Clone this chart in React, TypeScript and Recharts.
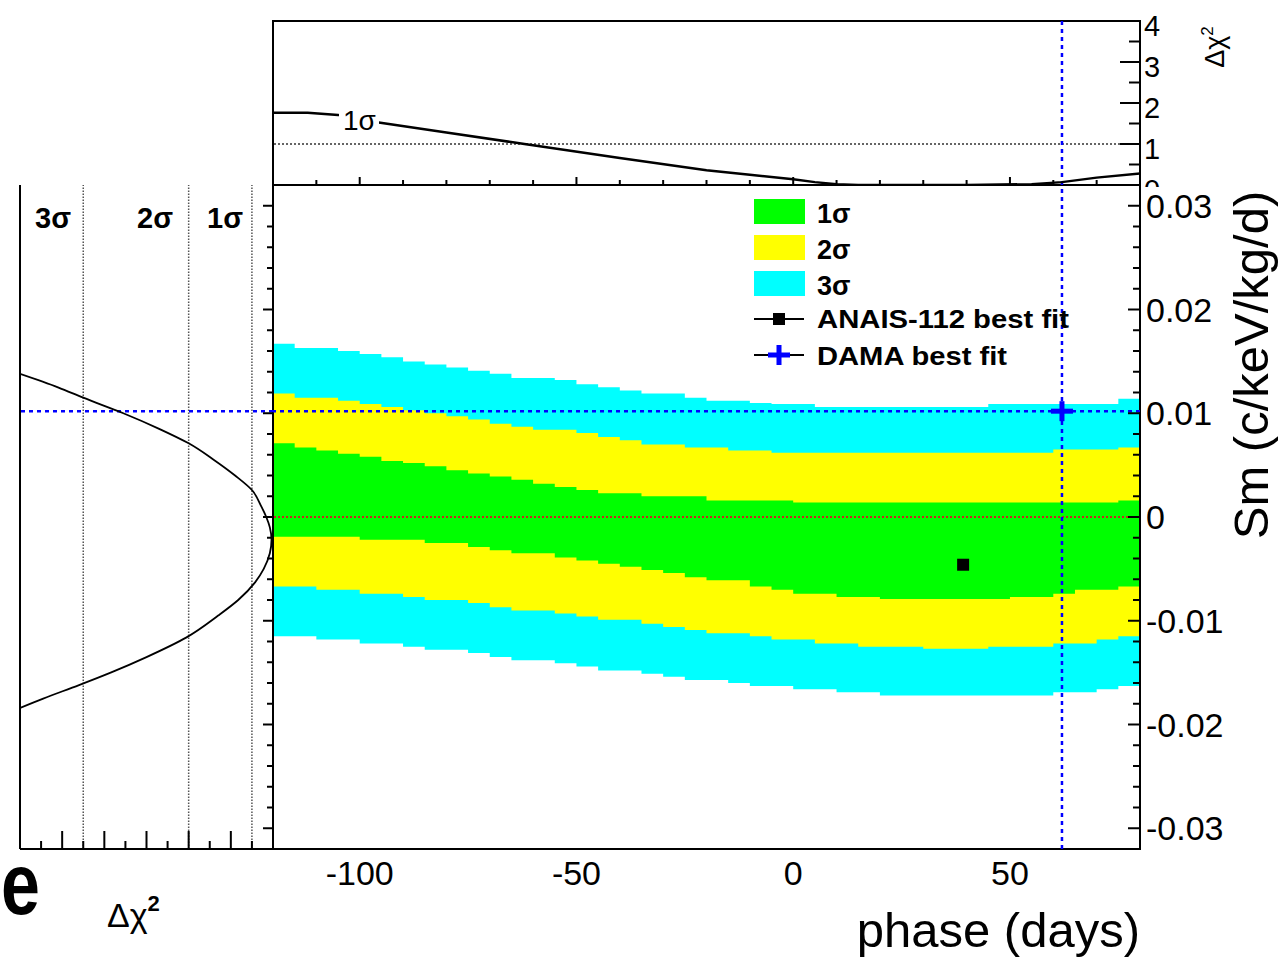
import React from 'react';
import { ComposedChart, Area, Line, Scatter, XAxis, YAxis, ReferenceLine, ReferenceArea } from 'recharts';

const FONT = '"Liberation Sans", Arial, Helvetica, sans-serif';

// contour bands, sampled every 5 days (values in c/keV/kg/d)
const phases = [-120, -115, -110, -105, -100, -95, -90, -85, -80, -75, -70, -65, -60, -55, -50, -45, -40, -35, -30, -25, -20, -15, -10, -5, 0, 5, 10, 15, 20, 25, 30, 35, 40, 45, 50, 55, 60, 65, 70, 75, 80];
const cyanHigh = [0.0167, 0.0163, 0.0163, 0.016, 0.0157, 0.0154, 0.015, 0.0147, 0.0144, 0.0141, 0.0138, 0.0134, 0.0134, 0.0132, 0.0128, 0.0125, 0.0122, 0.0119, 0.0119, 0.0115, 0.0112, 0.0112, 0.011, 0.0109, 0.0109, 0.0106, 0.0106, 0.0106, 0.0106, 0.0106, 0.0106, 0.0106, 0.0106, 0.0109, 0.0109, 0.0109, 0.0109, 0.0109, 0.0109, 0.0114, 0.0114];
const yellowHigh = [0.0119, 0.0115, 0.0115, 0.0112, 0.0109, 0.0106, 0.0103, 0.01, 0.0097, 0.0094, 0.009, 0.0087, 0.0084, 0.0084, 0.0081, 0.0077, 0.0074, 0.007, 0.007, 0.0067, 0.0067, 0.0064, 0.0064, 0.0062, 0.0062, 0.0062, 0.0062, 0.0062, 0.0062, 0.0062, 0.0062, 0.0062, 0.0062, 0.0062, 0.0062, 0.0062, 0.0065, 0.0065, 0.0065, 0.0067, 0.0067];
const greenHigh = [0.0071, 0.0067, 0.0064, 0.0061, 0.0058, 0.0054, 0.0052, 0.0049, 0.0045, 0.0042, 0.0039, 0.0036, 0.0032, 0.0029, 0.0026, 0.0023, 0.0023, 0.002, 0.002, 0.002, 0.0016, 0.0016, 0.0016, 0.0016, 0.0014, 0.0014, 0.0014, 0.0014, 0.0014, 0.0014, 0.0014, 0.0014, 0.0014, 0.0014, 0.0014, 0.0014, 0.0014, 0.0014, 0.0014, 0.0016, 0.0016];
const greenLow = [-0.0019, -0.0019, -0.0019, -0.0019, -0.0022, -0.0022, -0.0022, -0.0025, -0.0025, -0.0029, -0.0032, -0.0035, -0.0035, -0.0039, -0.0042, -0.0045, -0.0048, -0.0051, -0.0054, -0.0058, -0.0061, -0.0061, -0.0067, -0.007, -0.0074, -0.0074, -0.0077, -0.0077, -0.0079, -0.0079, -0.0079, -0.0079, -0.0079, -0.0079, -0.0077, -0.0077, -0.0074, -0.007, -0.007, -0.0067, -0.0067];
const yellowLow = [-0.0067, -0.0067, -0.007, -0.007, -0.0074, -0.0074, -0.0077, -0.008, -0.008, -0.0083, -0.0087, -0.009, -0.009, -0.0093, -0.0096, -0.0099, -0.0099, -0.0103, -0.0106, -0.0109, -0.0112, -0.0112, -0.0115, -0.0118, -0.0118, -0.0122, -0.0122, -0.0125, -0.0125, -0.0125, -0.0127, -0.0127, -0.0127, -0.0125, -0.0125, -0.0125, -0.0122, -0.0122, -0.0118, -0.0115, -0.0115];
const cyanLow = [-0.0115, -0.0115, -0.0118, -0.0118, -0.0122, -0.0122, -0.0125, -0.0128, -0.0128, -0.0131, -0.0135, -0.0138, -0.0138, -0.0141, -0.0144, -0.0148, -0.0148, -0.0151, -0.0154, -0.0157, -0.0157, -0.016, -0.0163, -0.0163, -0.0166, -0.0166, -0.0169, -0.0169, -0.0172, -0.0172, -0.0172, -0.0172, -0.0172, -0.0172, -0.0172, -0.0172, -0.0169, -0.0169, -0.0166, -0.0163, -0.0163];

const anaisBest = [{ phase: 39.2, sm: -0.0046 }];
const damaBest = [{ phase: 62, sm: 0.0102 }];

// top pad: delta chi2 profile vs phase
const profilePhase = [-120, -112, -105, -96, -80, -62, -40, -20, -10, 0, 5, 10, 15, 40, 55, 62, 70, 80];
const profileChi = [1.76, 1.76, 1.71, 1.53, 1.28, 1.0, 0.66, 0.36, 0.25, 0.14, 0.07, 0.02, 0.0, 0.0, 0.02, 0.07, 0.18, 0.28];

// left pad: delta chi2 vs Sm at DAMA phase
const leftSm = [0.0138, 0.0125, 0.0115, 0.01, 0.0085, 0.0071, 0.0055, 0.004, 0.0026, 0.001, 0.0, -0.001, -0.0022, -0.0035, -0.005, -0.0063, -0.008, -0.0095, -0.0116, -0.0135, -0.015, -0.0162, -0.0175, -0.0184];
const leftChi = [12.0, 10.2, 9.0, 7.1, 5.4, 4.0, 2.8, 1.8, 1.0, 0.55, 0.32, 0.15, 0.07, 0.15, 0.44, 0.85, 1.65, 2.6, 4.1, 6.0, 7.7, 9.2, 10.9, 12.0];

const phaseTicks = [-100, -50, 0, 50];
const topPhaseTicks = [-110, -100, -90, -80, -70, -60, -50, -40, -30, -20, -10, 0, 10, 20, 30, 40, 50, 60, 70];
const smTicks = Array.from({ length: 31 }, (_, i) => +((i - 15) * 0.002).toFixed(3));
const chiTopTicks = [0, 0.5, 1, 1.5, 2, 2.5, 3, 3.5, 4];
const chiLeftTicks = [1, 2, 3, 4, 5, 6, 7, 8, 9, 10, 11];
const sigmaLevels = [1, 4, 9];
const sigmaNames = ['1σ', '2σ', '3σ'];

const bandData = phases.map((p, i) => ({
  phase: p,
  cyan: [cyanLow[i], cyanHigh[i]],
  yellow: [yellowLow[i], yellowHigh[i]],
  green: [greenLow[i], greenHigh[i]],
}));
const profileData = profilePhase.map((p, i) => ({ phase: p, chi: profileChi[i] }));
const leftData = leftSm.map((s, i) => ({ sm: s, chi: leftChi[i] }));

const SM_DOMAIN: [number, number] = [-0.032, 0.032];
const near = (v: number, step: number) => Math.abs(v / step - Math.round(v / step)) < 1e-6;
const fmtSm = (v: number) => (Math.abs(v) < 1e-9 ? '0' : v.toFixed(2));

const txt = { fontFamily: FONT, fill: '#000' };

function PhaseTick({ x, y, payload }: any) {
  return <text x={x} y={y + 36} textAnchor="middle" fontSize={34} {...txt}>{payload.value}</text>;
}

function SmTick({ x, y, payload }: any) {
  const major = near(payload.value, 0.01);
  return (
    <g>
      <line x1={x - (major ? 12 : 7)} x2={x} y1={y} y2={y} stroke="#000" strokeWidth={2} />
      {major && <text x={x + 6} y={y + 12} fontSize={34} {...txt}>{fmtSm(payload.value)}</text>}
    </g>
  );
}

function LeftSmTick({ x, y, payload }: any) {
  const major = near(payload.value, 0.01);
  return <line x1={x - (major ? 10 : 6)} x2={x} y1={y} y2={y} stroke="#000" strokeWidth={2} />;
}

function TopPhaseTick({ x, y, payload }: any) {
  const major = near(payload.value, 50);
  return <line x1={x} x2={x} y1={y} y2={y - (major ? 8 : 5)} stroke="#000" strokeWidth={2} />;
}

function ChiRightTick({ x, y, payload }: any) {
  const major = near(payload.value, 1);
  return (
    <g>
      <line x1={x - (major ? 20 : 11)} x2={x} y1={y} y2={y} stroke="#000" strokeWidth={2} />
      {major && <text x={x + 4} y={y + 15} fontSize={29} {...txt}>{payload.value}</text>}
    </g>
  );
}

function ChiBottomTick({ x, y, payload }: any) {
  const major = near(payload.value, 2);
  return <line x1={x} x2={x} y1={y} y2={y - (major ? 18 : 8)} stroke="#000" strokeWidth={2} />;
}

const Square = ({ cx, cy }: any) => <rect x={cx - 6} y={cy - 6} width={12} height={12} fill="#000" />;
const Cross = ({ cx, cy }: any) => (
  <g fill="#0000ff">
    <rect x={cx - 11} y={cy - 2.5} width={22} height={5} />
    <rect x={cx - 2.5} y={cy - 10} width={5} height={20} />
  </g>
);

const legendItems = [
  { label: '1σ', color: '#00ff00' },
  { label: '2σ', color: '#ffff00' },
  { label: '3σ', color: '#00ffff' },
];

export default function App() {
  return (
    <div style={{ position: 'absolute', left: 0, top: 0, width: 1288, height: 959, background: '#fff', overflow: 'hidden' }}>
      {/* main pad */}
      <div style={{ position: 'absolute', left: 0, top: 0 }}>
        <ComposedChart width={1288} height={959} data={bandData} margin={{ top: 185, right: 0, bottom: 0, left: 273 }}>
          <XAxis dataKey="phase" type="number" domain={[-120, 80]} allowDataOverflow ticks={phaseTicks} interval={0}
            height={110} axisLine={false} tickLine={false} tickSize={0} tickMargin={0} tick={<PhaseTick />} />
          <YAxis type="number" orientation="right" domain={SM_DOMAIN} allowDataOverflow ticks={smTicks} interval={0}
            width={148} axisLine={false} tickLine={false} tickSize={0} tickMargin={0} tick={<SmTick />} />
          <Area type="stepAfter" dataKey="cyan" fill="#00ffff" fillOpacity={1} stroke="none" isAnimationActive={false} />
          <Area type="stepAfter" dataKey="yellow" fill="#ffff00" fillOpacity={1} stroke="none" isAnimationActive={false} />
          <Area type="stepAfter" dataKey="green" fill="#00ff00" fillOpacity={1} stroke="none" isAnimationActive={false} />
          <ReferenceLine y={0} stroke="#c8281e" strokeWidth={2} strokeDasharray="2 2" />
          <ReferenceLine y={damaBest[0].sm} stroke="#0000ff" strokeWidth={2.5} strokeDasharray="4 4" />
          <ReferenceLine x={damaBest[0].phase} stroke="#0000ff" strokeWidth={2.5} strokeDasharray="4 4" />
          <Scatter data={anaisBest} dataKey="sm" shape={Square} isAnimationActive={false} />
          <Scatter data={damaBest} dataKey="sm" shape={Cross} isAnimationActive={false} />
          <ReferenceArea x1={-120} x2={80} y1={SM_DOMAIN[0]} y2={SM_DOMAIN[1]} fill="none" fillOpacity={0} stroke="#000" strokeWidth={2} />
        </ComposedChart>
      </div>

      {/* top pad */}
      <div style={{ position: 'absolute', left: 0, top: 0 }}>
        <ComposedChart width={1288} height={187} data={profileData} margin={{ top: 21, right: 0, bottom: 0, left: 273 }}>
          <XAxis dataKey="phase" type="number" domain={[-120, 80]} allowDataOverflow ticks={topPhaseTicks} interval={0}
            height={2} axisLine={false} tickLine={false} tickSize={0} tickMargin={0} tick={<TopPhaseTick />} />
          <YAxis type="number" orientation="right" domain={[0, 4]} allowDataOverflow ticks={chiTopTicks} interval={0}
            width={148} axisLine={false} tickLine={false} tickSize={0} tickMargin={0} tick={<ChiRightTick />} />
          <ReferenceLine y={1} stroke="#333" strokeWidth={1.5} strokeDasharray="2 2" />
          <ReferenceLine x={damaBest[0].phase} stroke="#0000ff" strokeWidth={2.5} strokeDasharray="4 4" />
          <Line type="linear" dataKey="chi" stroke="#000" strokeWidth={2.5} dot={false} isAnimationActive={false} />
          <ReferenceArea x1={-120} x2={80} y1={0} y2={4} fill="none" fillOpacity={0} stroke="#000" strokeWidth={2} />
        </ComposedChart>
      </div>

      {/* left pad */}
      <div style={{ position: 'absolute', left: 0, top: 0 }}>
        <ComposedChart width={1288} height={959} data={leftData} margin={{ top: 185, right: 1014, bottom: 0, left: 20 }}>
          <XAxis dataKey="chi" type="number" domain={[0, 12]} reversed allowDataOverflow ticks={chiLeftTicks} interval={0}
            height={110} axisLine={{ stroke: '#000', strokeWidth: 2 }} tickLine={false} tickSize={0} tickMargin={0} tick={<ChiBottomTick />} />
          <YAxis type="number" orientation="right" domain={SM_DOMAIN} allowDataOverflow ticks={smTicks} interval={0}
            width={1} axisLine={false} tickLine={false} tickSize={0} tickMargin={0} tick={<LeftSmTick />} />
          {sigmaLevels.map((s) => (
            <ReferenceLine key={s} x={s} stroke="#555" strokeWidth={1.5} strokeDasharray="1.5 1.5" />
          ))}
          <ReferenceLine x={12} stroke="#000" strokeWidth={2} />
          <ReferenceLine y={damaBest[0].sm} stroke="#0000ff" strokeWidth={2.5} strokeDasharray="4 4" />
          <Line type="monotoneY" dataKey="sm" stroke="#000" strokeWidth={1.8} dot={false} isAnimationActive={false} />
        </ComposedChart>
      </div>

      {/* texts and legend */}
      <svg width={1288} height={959} style={{ position: 'absolute', left: 0, top: 0, pointerEvents: 'none' }}>
        {legendItems.map((it, i) => (
          <g key={it.label}>
            <rect x={754} y={199 + i * 36} width={51} height={25} fill={it.color} />
            <text x={817} y={223 + i * 36} fontSize={27} fontWeight="bold" {...txt}>{it.label}</text>
          </g>
        ))}
        <line x1={754} x2={804} y1={319} y2={319} stroke="#000" strokeWidth={2} />
        <Square cx={779} cy={319} />
        <text x={817} y={328} fontSize={26} fontWeight="bold" textLength={252} lengthAdjust="spacingAndGlyphs" {...txt}>ANAIS-112 best fit</text>
        <line x1={754} x2={804} y1={355} y2={355} stroke="#000" strokeWidth={2} />
        <Cross cx={779} cy={355} />
        <text x={817} y={365} fontSize={26} fontWeight="bold" textLength={190} lengthAdjust="spacingAndGlyphs" {...txt}>DAMA best fit</text>

        <rect x={339} y={106} width={40} height={28} fill="#fff" />
        <text x={343} y={130} fontSize={28} {...txt}>1σ</text>

        <text x={35} y={228} fontSize={29} fontWeight="bold" {...txt}>{sigmaNames[2]}</text>
        <text x={137} y={228} fontSize={29} fontWeight="bold" {...txt}>{sigmaNames[1]}</text>
        <text x={207} y={228} fontSize={29} fontWeight="bold" {...txt}>{sigmaNames[0]}</text>

        <text transform="translate(1 914) scale(1 1.25)" fontSize={70} fontWeight="bold" {...txt}>e</text>
        <text x={107} y={927} fontSize={34} {...txt}>Δχ<tspan fontSize={22} dy={-16} fontWeight="bold">2</tspan></text>
        <text x={1140} y={947} textAnchor="end" fontSize={49} {...txt}>phase (days)</text>
        <text transform="translate(1268 365) rotate(-90)" textAnchor="middle" fontSize={49} {...txt}>Sm (c/keV/kg/d)</text>
        <text transform="translate(1224 47) rotate(-90)" textAnchor="middle" fontSize={27} {...txt}>Δχ<tspan fontSize={17} dy={-11}>2</tspan></text>
      </svg>
    </div>
  );
}
